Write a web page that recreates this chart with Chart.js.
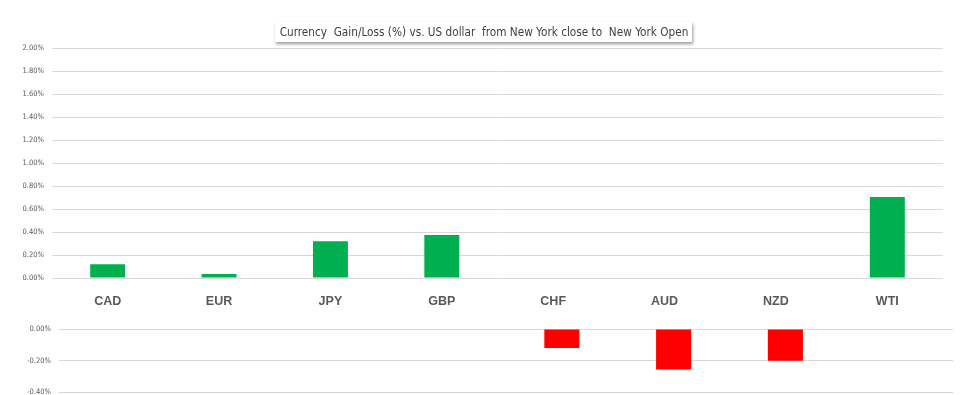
<!DOCTYPE html>
<html>
<head>
<meta charset="utf-8">
<script src="https://cdn.jsdelivr.net/npm/chart.js@4.4.1/dist/chart.umd.min.js"></script>
<style>
body{margin:0;background:#fff;}
#wrap{position:relative;width:980px;height:395px;overflow:hidden;}
#title{position:absolute;left:275px;top:22px;width:417px;height:20px;line-height:20px;
	background:#fff;box-shadow:1px 2px 3px rgba(0,0,0,0.4);overflow:hidden;}
#titleText{position:absolute;left:50%;top:0;white-space:pre;transform-origin:center center;
	font-family:"DejaVu Sans Condensed","Liberation Sans",sans-serif;font-size:12.5px;color:#404040;}
#topChart{position:absolute;left:0;top:0;}
#bottomChart{position:absolute;left:0;top:305px;}
</style>
</head>
<body>
<div id="wrap">
<canvas id="topChart" width="980" height="305"></canvas>
<canvas id="bottomChart" width="980" height="100"></canvas>
<div id="title"><span id="titleText">Currency  Gain/Loss (%) vs. US dollar  from New York close to  New York Open</span></div>
</div>
<script>
// currencies and their move in percent
var currencies=["CAD","EUR","JPY","GBP","CHF","AUD","NZD","WTI"];
var changes=[0.12,0.035,0.32,0.375,-0.12,-0.255,-0.20,0.705];
var topTicks=[0,2,0.2];
var bottomTicks=[-0.4,0,0.2];

var gridColor="#d9d9d9";
var tickFont={family:"'DejaVu Sans Condensed','Liberation Sans',sans-serif",size:7.5};

function pctLabel(v){
	return v.toFixed(2)+"%";
}

function gainsOnly(){
	var out=[];
	for(var i=0;i<changes.length;i++){
		out.push(changes[i]>0?changes[i]:null);
	}
	return out;
}

function lossesOnly(){
	var out=[];
	for(var i=0;i<changes.length;i++){
		out.push(changes[i]<0?changes[i]:null);
	}
	return out;
}

function fitTitle(){
	var t=document.getElementById("titleText");
	var w=t.offsetWidth;
	var k=w>0?409/w:1;
	t.style.transform="translateX(-50%) scaleX("+k+")";
}

function makeChart(id,values,color,range,yWidth,showLabels,pad){
	var ctx=document.getElementById(id).getContext("2d");
	return new Chart(ctx,{
		type:"bar",
		data:{
			labels:currencies,
			datasets:[{data:values,backgroundColor:color,borderWidth:0,
				categoryPercentage:1,barPercentage:0.314}]
		},
		options:{
			responsive:false,
			animation:false,
			layout:{padding:pad},
			plugins:{legend:{display:false},tooltip:{enabled:false}},
			scales:{
				x:{
					display:showLabels,
					grid:{display:false},
					border:{display:false},
					ticks:{color:"#595959",padding:8,maxRotation:0,
						font:{family:"'Liberation Sans',Arial,sans-serif",size:12.5,weight:"bold"}},
					afterFit:function(scale){ scale.height=showLabels?27:0; }
				},
				y:{
					min:range[0],max:range[1],
					grid:{color:gridColor,lineWidth:1,drawTicks:false},
					border:{display:false},
					ticks:{stepSize:range[2],color:"#595959",padding:8,font:tickFont,callback:pctLabel},
					afterFit:function(scale){ scale.width=yWidth; }
				}
			}
		}
	});
}

fitTitle();
makeChart("topChart",gainsOnly(),"#00b050",topTicks,52,true,{top:48,right:37,bottom:0,left:0});
makeChart("bottomChart",lossesOnly(),"#ff0000",bottomTicks,59,false,{top:24,right:27,bottom:12,left:0});
</script>
</body>
</html>
